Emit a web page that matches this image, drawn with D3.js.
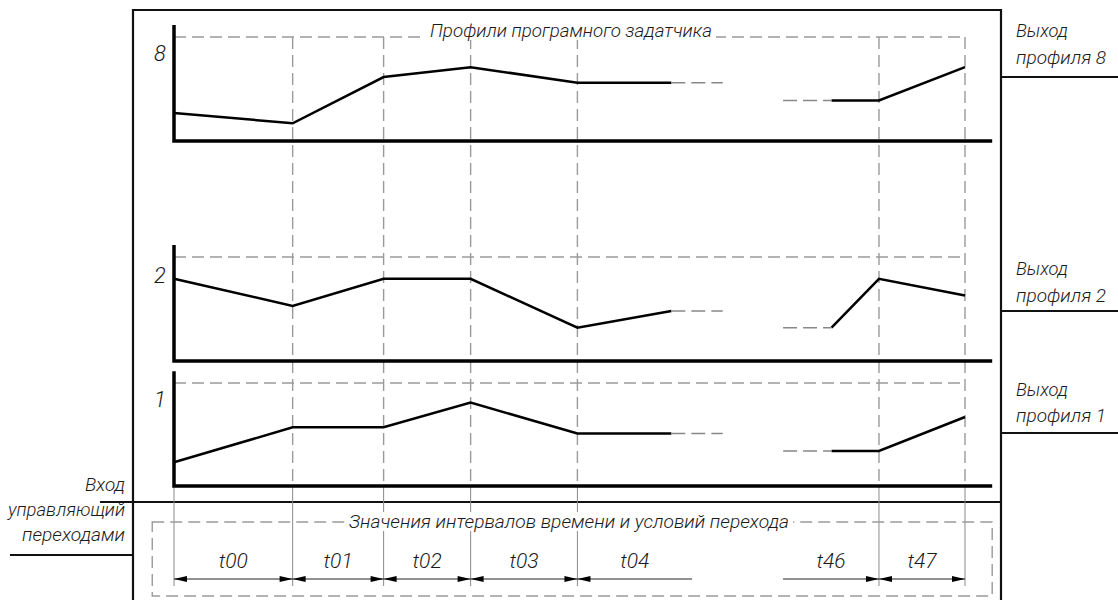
<!DOCTYPE html>
<html><head><meta charset="utf-8">
<script src="https://cdn.jsdelivr.net/npm/d3@7"></script>
<style>
html,body{margin:0;padding:0;background:#fff;}
svg{display:block;}
text{font-family:"Roboto","Open Sans","DejaVu Sans",sans-serif;font-style:italic;font-weight:300;fill:#1a1a1a;}
</style></head>
<body>
<svg id="chart" width="1118" height="600"></svg>
<script>
// ---------- data ----------
const profileNames = ["8", "2", "1"];
const headTimes = [0, 12, 21.2, 30, 40.8, 50.3];   // visible start of the program
const gapTimes  = [55.5, 61.6];                    // dashed continuation ends
const tailTimes = [66.5, 71.3, 80];                // visible end of the program
const profile8Head = [0.27, 0.17, 0.615, 0.71, 0.56, 0.56];
const profile8Tail = [0.39, 0.39, 0.71];
const profile2Head = [0.79, 0.53, 0.79, 0.79, 0.32, 0.48];
const profile2Tail = [0.32, 0.79, 0.63];
const profile1Head = [0.23, 0.57, 0.57, 0.81, 0.51, 0.51];
const profile1Tail = [0.34, 0.34, 0.67];
const gridTimes = [0, 12, 21.2, 30, 40.8, 71.3, 80];
const intervalLabels = ["t00", "t01", "t02", "t03", "t04", "t46", "t47"];
const intervalStarts = [0, 12, 21.2, 30, 40.8, 61.6, 71.3];
const intervalEnds   = [12, 21.2, 30, 40.8, 52.4, 71.3, 80];
const arrowStart = [true, true, true, true, true, false, true];
const arrowEnd   = [true, true, true, true, false, true, true];
const titleText = "Профили програмного задатчика";
const bottomTitle = "Значения интервалов времени и условий перехода";
const outputLabels = [["Выход", "профиля 8"], ["Выход", "профиля 2"], ["Выход", "профиля 1"]];
const inputLabel = ["Вход", "управляющий", "переходами"];

const headValues = [profile8Head, profile2Head, profile1Head];
const tailValues = [profile8Tail, profile2Tail, profile1Tail];

// ---------- layout ----------
const svg = d3.select("#chart");
const x = d3.scaleLinear().domain([0, 80]).range([174, 965]);
const panels = [
  {base: 141, top: 37, labelY: 53, outLine: 77, outY: [37, 64]},
  {base: 361, top: 257, labelY: 275, outLine: 311, outY: [275, 302]},
  {base: 486, top: 383, labelY: 399, outLine: 433, outY: [396, 422]}
];
const xEnd = 82.75, xBoxLeft = -2.2;
const grey = "#9a9a9a";
const dash = "12,6";
const FS = 19;

// frame
const frame = svg.append("g").attr("fill", "none").attr("stroke", "#111");
frame.append("path").attr("d", "M133,600 L133,10 L1001,10 L1001,600").attr("stroke-width", 2.2);
frame.append("line").attr("x1", 100).attr("x2", 1001).attr("y1", 502).attr("y2", 502).attr("stroke-width", 1.8);
frame.append("line").attr("x1", 10).attr("x2", 133).attr("y1", 555).attr("y2", 555).attr("stroke-width", 1.8);
panels.forEach(p => {
  frame.append("line").attr("x1", 1001).attr("x2", 1118).attr("y1", p.outLine).attr("y2", p.outLine).attr("stroke-width", 1.8);
});

// grid: vertical dashed lines and top dashed lines
const grid = svg.append("g").attr("fill", "none").attr("stroke", grey).attr("stroke-width", 1.4);
gridTimes.filter(t => t > 0).forEach(t => {
  grid.append("line").attr("x1", x(t)).attr("x2", x(t)).attr("y1", panels[0].top).attr("y2", panels[2].base)
    .attr("stroke-dasharray", dash);
});
gridTimes.forEach(t => {
  grid.append("line").attr("x1", x(t)).attr("x2", x(t)).attr("y1", panels[2].base).attr("y2", 586)
    .attr("stroke-width", 1).attr("stroke", "#8a8a8a");
});
panels.forEach(p => {
  grid.append("line").attr("x1", x(0)).attr("x2", x(80)).attr("y1", p.top).attr("y2", p.top)
    .attr("stroke-dasharray", dash);
});
// bottom dashed box
grid.append("rect").attr("x", x(xBoxLeft)).attr("y", 522).attr("width", x(xEnd) - x(xBoxLeft)).attr("height", 74)
  .attr("stroke-dasharray", dash);

// titles with white backing
function backedText(txt, cx, y, len) {
  const g = svg.append("g");
  const r = g.append("rect").attr("fill", "#fff");
  const t = g.append("text").attr("x", cx).attr("y", y).attr("text-anchor", "middle")
    .attr("font-size", FS).attr("textLength", len).attr("lengthAdjust", "spacingAndGlyphs").text(txt);
  const b = t.node().getBBox();
  r.attr("x", b.x - 4).attr("y", b.y + 2).attr("width", b.width + 8).attr("height", b.height - 4);
}
backedText(titleText, 571, 37, 282);
backedText(bottomTitle, 569, 528, 440);

// panels
const lineGen = (ys) => d3.line().x(d => x(d[0])).y(d => ys(d[1]));
panels.forEach((p, i) => {
  const ys = d3.scaleLinear().domain([0, 1]).range([p.base, p.top]);
  const g = svg.append("g");
  // axes
  g.append("path").attr("d", `M${x(0)},${ys(1.115)} L${x(0)},${p.base} L${x(xEnd)},${p.base}`)
    .attr("fill", "none").attr("stroke", "#000").attr("stroke-width", 3.5).attr("stroke-linejoin", "miter");
  // axis label
  g.append("text").attr("x", 160).attr("y", p.labelY + 8).attr("text-anchor", "middle")
    .attr("font-size", 22).text(profileNames[i]);
  // head line
  const head = headTimes.map((t, k) => [t, headValues[i][k]]);
  const tail = tailTimes.map((t, k) => [t, tailValues[i][k]]);
  g.append("path").attr("d", lineGen(ys)(head)).attr("fill", "none").attr("stroke", "#000").attr("stroke-width", 2.5);
  g.append("path").attr("d", lineGen(ys)(tail)).attr("fill", "none").attr("stroke", "#000").attr("stroke-width", 2.5);
  // dashed continuations
  const lastHead = head[head.length - 1][1];
  g.append("path").attr("d", lineGen(ys)([[headTimes[headTimes.length - 1], lastHead], [gapTimes[0], lastHead]]))
    .attr("fill", "none").attr("stroke", "#888").attr("stroke-width", 1.5).attr("stroke-dasharray", "14,6");
  g.append("path").attr("d", lineGen(ys)([[gapTimes[1], tail[0][1]], [tailTimes[0], tail[0][1]]]))
    .attr("fill", "none").attr("stroke", "#888").attr("stroke-width", 1.5).attr("stroke-dasharray", "14,6");
  // output labels
  svg.append("text").attr("x", 1016).attr("y", p.outY[0]).attr("font-size", FS).attr("textLength", 52)
    .attr("lengthAdjust", "spacingAndGlyphs").text(outputLabels[i][0]);
  svg.append("text").attr("x", 1016).attr("y", p.outY[1]).attr("font-size", FS).attr("textLength", 90)
    .attr("lengthAdjust", "spacingAndGlyphs").text(outputLabels[i][1]);
});

// input label
const inLens = [40, 117, 103];
[491, 516, 541].forEach((y, k) => {
  svg.append("text").attr("x", 125).attr("y", y).attr("text-anchor", "end").attr("font-size", FS)
    .attr("textLength", inLens[k]).attr("lengthAdjust", "spacingAndGlyphs").text(inputLabel[k]);
});

// interval dimension lines
const dimY = 579;
const dim = svg.append("g");
function arrow(xTip, dir) {
  const L = 13, W = 3;
  dim.append("path").attr("d", `M${xTip},${dimY} L${xTip - dir * L},${dimY - W} L${xTip - dir * L},${dimY + W} Z`)
    .attr("fill", "#000");
}
intervalLabels.forEach((lab, k) => {
  const a = x(intervalStarts[k]), b = x(intervalEnds[k]);
  dim.append("line").attr("x1", a).attr("x2", b).attr("y1", dimY).attr("y2", dimY)
    .attr("stroke", "#222").attr("stroke-width", 1);
  if (arrowStart[k]) arrow(a, -1);
  if (arrowEnd[k]) arrow(b, 1);
  dim.append("text").attr("x", (a + b) / 2).attr("y", 568).attr("text-anchor", "middle")
    .attr("font-size", 21).text(lab);
});
</script>
</body></html>
